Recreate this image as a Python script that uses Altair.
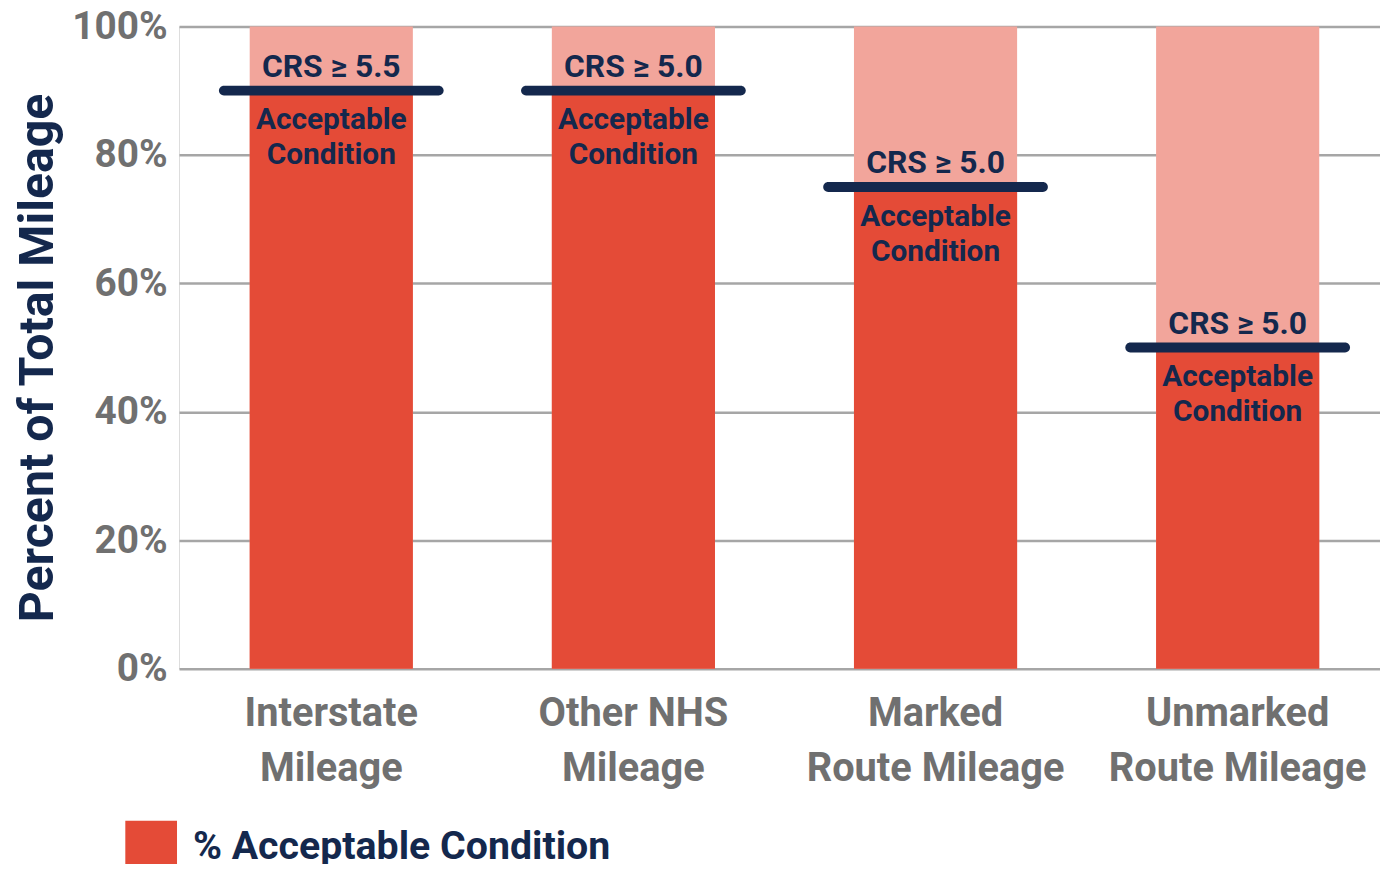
import altair as alt
import pandas as pd

categories = ["Interstate|Mileage", "Other NHS|Mileage", "Marked|Route Mileage", "Unmarked|Route Mileage"]
acceptable = [90, 90, 75, 50]
total = [100, 100, 100, 100]
crs_labels = ["CRS \u2265 5.5", "CRS \u2265 5.0", "CRS \u2265 5.0", "CRS \u2265 5.0"]
cond_label = "Acceptable|Condition"
legend_name = "% Acceptable Condition"

df = pd.DataFrame({
    "cat": categories,
    "acc": acceptable,
    "total": total,
    "crs": crs_labels,
    "cond": [cond_label] * len(categories),
    "series": [legend_name] * len(categories),
})

FONT = "Roboto"
RED = "#E44B37"
PINK = "#F2A59B"
NAVY = "#14284D"
GRAY = "#707070"

x = alt.X("cat:N", sort=categories, title=None,
          scale=alt.Scale(range=[0, 1218], paddingInner=0.46, paddingOuter=0.234),
          axis=alt.Axis(labelExpr="split(datum.value, '|')", labelAngle=0,
                        labelFont=FONT, labelFontSize=40, labelFontWeight="bold",
                        labelColor=GRAY, labelPadding=25, labelLineHeight=56,
                        labelLimit=0, ticks=False, domain=False, labelBaseline="top"))

base = alt.Chart(df)

bg = base.mark_bar(color=PINK).encode(
    x=x,
    y=alt.Y("total:Q", title="Percent of Total Mileage",
            scale=alt.Scale(domain=[0, 100]),
            axis=alt.Axis(values=[0, 20, 40, 60, 80, 100], labelExpr="datum.value + '%'",
                          labelFont=FONT, labelFontSize=39, labelFontWeight="bold",
                          labelColor=GRAY, labelPadding=12, ticks=False, domain=False,
                          grid=True, gridColor="#A6A6A6", gridWidth=2.5,
                          titleFont=FONT, titleFontSize=48.5, titleFontWeight="bold",
                          titleColor=NAVY, titleAngle=-90, titleAlign="center",
                          titleBaseline="middle", titleX=-142, titleY=333)),
)

bars = base.mark_bar().encode(
    x=x,
    y=alt.Y("acc:Q"),
    color=alt.Color("series:N", scale=alt.Scale(domain=[legend_name], range=[RED]),
                    legend=alt.Legend(title=None, orient="none", legendX=-54, legendY=799,
                                      symbolType="square", symbolSize=2704,
                                      symbolStrokeWidth=0, symbolOpacity=1,
                                      labelFont=FONT, labelFontSize=39.5, labelLimit=0,
                                      labelFontWeight="bold", labelColor=NAVY,
                                      labelOffset=16)),
)

ticks = base.mark_tick(color=NAVY, thickness=10, size=226, cornerRadius=5, opacity=1).encode(
    x=x, y="acc:Q"
)

crs_text = base.mark_text(font=FONT, fontSize=32, fontWeight="bold", color=NAVY,
                          baseline="middle", dy=-24).encode(
    x=x, y="acc:Q", text="crs:N"
)

cond_text = base.mark_text(font=FONT, fontSize=30, fontWeight="bold", color=NAVY,
                           baseline="middle", dy=30, lineBreak="|", lineHeight=35).encode(
    x=x, y="acc:Q", text="cond:N"
)

chart = alt.layer(bg, bars, ticks, crs_text, cond_text).properties(
    width=1208, height=646,
    autosize=alt.AutoSizeParams(type="none"),
    padding={"left": 172, "top": 16, "right": 0, "bottom": 194},
).configure_view(stroke=None).configure(background="white")

chart.save("out.html", embed_options={"renderer": "svg", "actions": False})
